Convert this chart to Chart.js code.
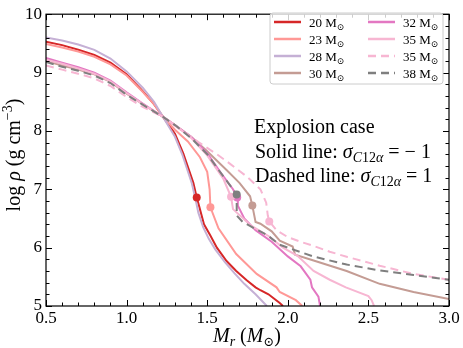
<!DOCTYPE html>
<html>
<head>
<meta charset="utf-8">
<script src="https://cdn.jsdelivr.net/npm/chart.js"></script>
<style>
body { margin: 0; background: #fff; }
#wrap { width: 463px; height: 348px; }
</style>
</head>
<body>
<div id="wrap"><canvas id="myChart"></canvas></div>
<script>
// mass coordinate M_r (Msun) and log density for each model
const m20 = [0.5, 0.6, 0.7, 0.8, 0.9, 1.0, 1.1, 1.17, 1.226, 1.3, 1.352, 1.414, 1.435, 1.451, 1.48, 1.517, 1.56, 1.62, 1.68, 1.745, 1.8, 1.83, 1.88, 1.95, 1.97];
const rho20 = [9.53, 9.47, 9.39, 9.30, 9.17, 8.97, 8.68, 8.46, 8.24, 7.95, 7.61, 7.11, 6.86, 6.70, 6.40, 6.22, 6.00, 5.77, 5.60, 5.44, 5.32, 5.27, 5.20, 5.05, 5.0];
const m23 = [0.5, 0.6, 0.7, 0.8, 0.9, 1.0, 1.1, 1.17, 1.226, 1.3, 1.38, 1.455, 1.5, 1.515, 1.52, 1.57, 1.68, 1.807, 1.93, 1.95, 2.05, 2.09];
const rho23 = [9.49, 9.43, 9.36, 9.27, 9.14, 8.95, 8.67, 8.46, 8.24, 8.02, 7.82, 7.55, 7.30, 7.0, 6.69, 6.33, 5.89, 5.55, 5.32, 5.24, 5.10, 5.0];
const m28 = [0.5, 0.6, 0.7, 0.8, 0.9, 1.0, 1.1, 1.17, 1.226, 1.3, 1.345, 1.405, 1.43, 1.445, 1.475, 1.51, 1.55, 1.61, 1.67, 1.73, 1.8, 1.87];
const rho28 = [9.60, 9.55, 9.48, 9.39, 9.24, 9.02, 8.74, 8.50, 8.24, 7.90, 7.60, 7.10, 6.80, 6.60, 6.35, 6.15, 5.97, 5.75, 5.56, 5.38, 5.20, 5.0];
const m30 = [0.5, 0.6, 0.7, 0.8, 0.9, 1.0, 1.1, 1.226, 1.3, 1.4, 1.5, 1.62, 1.70, 1.766, 1.78, 1.80, 1.83, 1.9, 1.95, 2.03, 2.045, 2.16, 2.365, 2.57, 2.78, 3.0];
const rho30 = [9.20, 9.12, 9.05, 8.97, 8.84, 8.64, 8.46, 8.24, 8.10, 7.90, 7.65, 7.33, 7.11, 6.88, 6.72, 6.44, 6.41, 6.28, 6.12, 6.02, 5.88, 5.78, 5.60, 5.38, 5.24, 5.12];
const m32 = [0.5, 0.6, 0.7, 0.8, 0.9, 1.0, 1.1, 1.226, 1.3, 1.4, 1.5, 1.58, 1.66, 1.69, 1.69, 1.73, 1.8, 1.9, 2.0, 2.08, 2.14, 2.15, 2.19, 2.2];
const rho32 = [9.25, 9.17, 9.09, 9.00, 8.86, 8.66, 8.47, 8.24, 8.10, 7.90, 7.62, 7.30, 7.00, 6.85, 6.72, 6.50, 6.30, 6.10, 5.85, 5.68, 5.45, 5.32, 5.16, 5.0];
const m35 = [0.5, 0.6, 0.7, 0.8, 0.9, 1.0, 1.1, 1.226, 1.3, 1.4, 1.5, 1.6, 1.648, 1.66, 1.77, 1.88, 1.97, 2.06, 2.16, 2.26, 2.36, 2.5, 2.52, 2.535];
const rho35 = [9.22, 9.15, 9.07, 8.98, 8.85, 8.65, 8.46, 8.24, 8.10, 7.88, 7.58, 7.18, 6.87, 6.66, 6.38, 6.20, 6.00, 5.86, 5.60, 5.45, 5.32, 5.17, 5.10, 5.0];
const m35d = [0.5, 0.6, 0.7, 0.8, 0.9, 1.0, 1.1, 1.226, 1.33, 1.45, 1.56, 1.64, 1.745, 1.83, 1.866, 1.876, 1.885, 1.93, 2.0, 2.08, 2.16, 2.26, 2.37, 2.57, 2.78, 3.0];
const rho35d = [9.12, 9.05, 8.98, 8.90, 8.77, 8.58, 8.41, 8.24, 8.03, 7.80, 7.60, 7.44, 7.22, 7.00, 6.77, 6.55, 6.45, 6.30, 6.18, 6.10, 6.03, 5.93, 5.84, 5.69, 5.55, 5.45];
const m38 = [0.5, 0.6, 0.7, 0.8, 0.9, 1.0, 1.1, 1.226, 1.3, 1.4, 1.5, 1.6, 1.66, 1.683, 1.683, 1.72, 1.8, 1.87, 1.95, 2.03, 2.157, 2.365, 2.57, 2.78, 3.0];
const rho38 = [9.18, 9.10, 9.03, 8.95, 8.82, 8.62, 8.45, 8.24, 8.10, 7.88, 7.60, 7.22, 7.00, 6.91, 6.55, 6.44, 6.32, 6.22, 6.05, 5.97, 5.85, 5.71, 5.61, 5.53, 5.45];

// explosion points (null = not marked)
const dotM = [1.435, 1.52, null, 1.78, 1.686, 1.648, 1.885, 1.683];
const dotRho = [6.86, 6.69, null, 6.72, 6.86, 6.87, 6.45, 6.91];

const massLabels = ['20', '23', '28', '30', '32', '35', '35', '38'];
const colors = ['#d62728', '#ff9896', '#c5b0d5', '#c49c94', '#e377c2', '#f7b6d2', '#f7b6d2', '#7f7f7f'];
const dashed = [false, false, false, false, false, false, true, true];
const allM = [m20, m23, m28, m30, m32, m35, m35d, m38];
const allRho = [rho20, rho23, rho28, rho30, rho32, rho35, rho35d, rho38];

const xTicks = [0.5, 1.0, 1.5, 2.0, 2.5, 3.0];
const yTicks = [5, 6, 7, 8, 9, 10];

const SERIF = '"Liberation Serif", "DejaVu Serif", serif';

const datasets = [];
allM.forEach(function (ms, i) {
  datasets.push({
    type: 'line',
    label: massLabels[i],
    data: ms.map(function (m, k) { return { x: m, y: allRho[i][k] }; }),
    borderColor: colors[i],
    borderWidth: 2,
    borderDash: dashed[i] ? [8, 5] : [],
    pointRadius: 0,
    tension: 0,
    fill: false,
    order: 20 - i,
  });
});
dotM.forEach(function (m, i) {
  if (m === null) return;
  datasets.push({
    type: 'scatter',
    data: [{ x: m, y: dotRho[i] }],
    backgroundColor: colors[i],
    borderWidth: 0,
    pointRadius: 4,
    order: 10 - i,
  });
});

function setFont(ctx, p) {
  ctx.font = (p.it ? 'italic ' : '') + p.s + 'px ' + SERIF;
}
function richWidth(ctx, parts) {
  let w = 0;
  parts.forEach(function (p) { setFont(ctx, p); w += ctx.measureText(p.t).width; });
  return w;
}
function rich(ctx, x, y, parts) {
  let cx = x;
  parts.forEach(function (p) {
    setFont(ctx, p);
    ctx.fillText(p.t, cx, y + (p.dy || 0));
    cx += ctx.measureText(p.t).width;
  });
}

const decor = {
  id: 'decor',
  afterDraw(chart) {
    const ctx = chart.ctx;
    const a = chart.chartArea;
    const xs = chart.scales.x, ys = chart.scales.y;
    ctx.save();
    ctx.strokeStyle = '#000';
    ctx.lineWidth = 1.2;
    ctx.strokeRect(a.left, a.top, a.right - a.left, a.bottom - a.top);

    // inward ticks on all four sides
    ctx.lineWidth = 1;
    ctx.beginPath();
    for (let k = 5; k <= 30; k++) {
      const px = Math.round(xs.getPixelForValue(k / 10)) + 0.5;
      const len = k % 5 === 0 ? 6 : 3.5;
      ctx.moveTo(px, a.bottom); ctx.lineTo(px, a.bottom - len);
      ctx.moveTo(px, a.top); ctx.lineTo(px, a.top + len);
    }
    for (let k = 25; k <= 50; k++) {
      const py = Math.round(ys.getPixelForValue(k / 5)) + 0.5;
      const len = k % 5 === 0 ? 6 : 3.5;
      ctx.moveTo(a.left, py); ctx.lineTo(a.left + len, py);
      ctx.moveTo(a.right, py); ctx.lineTo(a.right - len, py);
    }
    ctx.stroke();

    ctx.fillStyle = '#000';
    ctx.textBaseline = 'alphabetic';
    ctx.textAlign = 'left';

    // x axis title
    const xt = [{ t: 'M', s: 20, it: true }, { t: 'r', s: 14, it: true, dy: 4 },
      { t: ' (', s: 20 }, { t: 'M', s: 20, it: true }, { t: '\u2299', s: 13, dy: 4 }, { t: ')', s: 20 }];
    rich(ctx, 247 - richWidth(ctx, xt) / 2, 342, xt);

    // y axis title
    const yt = [{ t: 'log ', s: 20 }, { t: '\u03c1', s: 20, it: true }, { t: ' (g cm', s: 20 },
      { t: '\u22123', s: 14, dy: -8 }, { t: ')', s: 20 }];
    ctx.save();
    ctx.translate(20, 155);
    ctx.rotate(-Math.PI / 2);
    rich(ctx, -richWidth(ctx, yt) / 2, 0, yt);
    ctx.restore();

    // annotation
    rich(ctx, 254, 133, [{ t: 'Explosion case', s: 20 }]);
    const sub = [{ t: '\u03c3', s: 20, it: true }, { t: 'C', s: 14, it: true, dy: 4 },
      { t: '12', s: 14, dy: 4 }, { t: '\u03b1', s: 14, it: true, dy: 4 }];
    rich(ctx, 255, 158, [{ t: 'Solid line: ', s: 20 }].concat(sub, [{ t: ' = \u2212 1', s: 20 }]));
    rich(ctx, 255, 182, [{ t: 'Dashed line: ', s: 20 }].concat(sub, [{ t: ' = 1', s: 20 }]));

    // legend, two columns
    const bx = 270, by = 13, bw = 173, bh = 71;
    ctx.beginPath();
    ctx.roundRect(bx, by, bw, bh, 3);
    ctx.fillStyle = 'rgba(255,255,255,0.8)';
    ctx.fill();
    ctx.strokeStyle = '#cccccc';
    ctx.lineWidth = 1;
    ctx.stroke();
    const lineX = [274, 368], textX = [309, 403], rowY = [22, 39, 56, 73];
    massLabels.forEach(function (lab, i) {
      const c = i < 4 ? 0 : 1, r = i % 4;
      ctx.beginPath();
      ctx.strokeStyle = colors[i];
      ctx.lineWidth = 2.5;
      ctx.setLineDash(dashed[i] ? [8, 5] : []);
      ctx.moveTo(lineX[c], rowY[r]);
      ctx.lineTo(lineX[c] + 27, rowY[r]);
      ctx.stroke();
      ctx.setLineDash([]);
      ctx.fillStyle = '#000';
      rich(ctx, textX[c], rowY[r] + 5, [{ t: lab + ' M', s: 13 }, { t: '\u2299', s: 9, dy: 3 }]);
    });
    ctx.restore();
  }
};

const myChart = new Chart(document.getElementById('myChart').getContext('2d'), {
  type: 'scatter',
  data: { datasets: datasets },
  options: {
    responsive: true,
    maintainAspectRatio: false,
    animation: false,
    layout: { padding: { top: 7, right: 14, left: 0, bottom: 0 } },
    plugins: { legend: { display: false }, tooltip: { enabled: false } },
    scales: {
      x: {
        type: 'linear', min: 0.5, max: 3.0,
        grid: { display: false, drawTicks: false },
        border: { display: false },
        afterBuildTicks: function (s) { s.ticks = xTicks.map(function (v) { return { value: v }; }); },
        afterFit: function (s) { s.height = 42; },
        ticks: {
          autoSkip: false, maxRotation: 0, padding: 2, color: '#000',
          font: { family: SERIF, size: 17 },
          callback: function (v) { return v.toFixed(1); },
        },
      },
      y: {
        type: 'linear', min: 5, max: 10,
        grid: { display: false, drawTicks: false },
        border: { display: false },
        afterBuildTicks: function (s) { s.ticks = yTicks.map(function (v) { return { value: v }; }); },
        afterFit: function (s) { s.width = 46; },
        ticks: {
          autoSkip: false, padding: 4, color: '#000',
          font: { family: SERIF, size: 17 },
          callback: function (v) { return String(v); },
        },
      },
    },
  },
  plugins: [decor],
});
</script>
</body>
</html>
